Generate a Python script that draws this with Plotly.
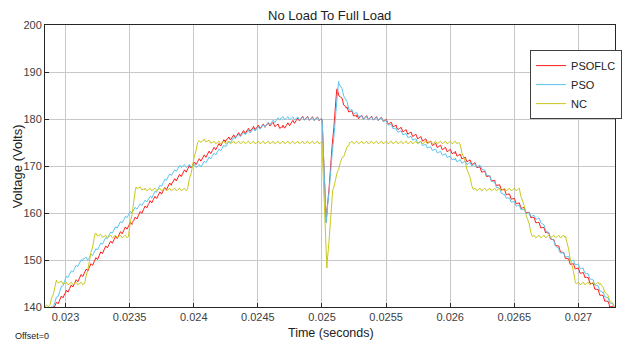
import numpy as np
import plotly.graph_objects as go

# Key points (time in s, voltage in V)
nc_t = [0.02284, 0.02288, 0.02293, 0.02300, 0.02315, 0.02323, 0.02330, 0.02349, 0.02355, 0.02362,
        0.02395, 0.02403, 0.02408, 0.02415, 0.02500, 0.025004, 0.025038, 0.025085, 0.02514, 0.025215,
        0.02607, 0.02618, 0.02654, 0.02664, 0.02690, 0.02698, 0.02717, 0.02728]
nc_v = [140.0, 140.5, 145.5, 145.0, 145.0, 155.5, 155.0, 155.0, 165.5, 165.0,
        165.0, 175.0, 175.5, 175.0, 175.0, 172.0, 148.3, 165.0, 170.5, 175.0,
        175.0, 165.0, 165.0, 155.0, 155.0, 145.0, 145.0, 140.0]

pso_t = [0.02284, 0.02290, 0.02300, 0.02314, 0.02318, 0.02334, 0.02351, 0.02367, 0.02380, 0.02390,
         0.02405, 0.02414, 0.02433, 0.02453, 0.02468, 0.02500, 0.025004, 0.025033, 0.025130, 0.025215,
         0.025320, 0.025470, 0.025580, 0.025830, 0.026040, 0.026240, 0.026420, 0.026600, 0.026700,
         0.026850, 0.027040, 0.027190, 0.02728]
pso_v = [139.0, 140.0, 146.0, 150.3, 150.3, 155.3, 160.2, 163.4, 167.7, 170.0,
         170.0, 172.0, 176.2, 178.3, 180.2, 180.0, 178.0, 158.0, 188.0, 182.0,
         180.2, 180.0, 177.7, 174.0, 171.3, 169.8, 163.8, 160.0, 158.5,
         152.0, 147.9, 143.0, 140.0]

flc_t = [0.02284, 0.02291, 0.02300, 0.02317, 0.02332, 0.02352, 0.02365, 0.02383, 0.02397, 0.02405,
         0.02425, 0.02446, 0.02461, 0.02469, 0.02484, 0.02500, 0.025004, 0.025033, 0.025115, 0.025190,
         0.025270, 0.025470, 0.025580, 0.025830, 0.026040, 0.026200, 0.026350, 0.026600, 0.026750,
         0.026930, 0.027060, 0.027240, 0.02728]
flc_v = [138.5, 140.0, 143.0, 147.9, 152.8, 158.0, 162.0, 166.4, 169.8, 171.3,
         175.5, 178.0, 179.0, 178.2, 180.2, 180.0, 178.0, 158.0, 186.2, 182.3,
         180.5, 180.0, 178.3, 175.1, 172.7, 170.2, 166.5, 160.2, 156.0,
         149.6, 146.4, 140.5, 139.5]

# switching ripple pattern (one cycle, V offsets)
ripple_pattern = [0.0, 0.5, -0.5]

x_ticks = [0.023, 0.0235, 0.024, 0.0245, 0.025, 0.0255, 0.026, 0.0265, 0.027]
x_tick_labels = ["0.023", "0.0235", "0.024", "0.0245", "0.025", "0.0255", "0.026", "0.0265", "0.027"]
y_ticks = [140, 150, 160, 170, 180, 190, 200]

names = ["PSOFLC", "PSO", "NC"]
colors = ["#ff1a1a", "#5bc4ee", "#c8c81e"]
amps = [0.8, 0.65, 0.55]

FONT = "Liberation Sans, Arial, sans-serif"


def dense(ts, vs, amp):
    step = 0.0000128
    t = np.arange(ts[0], ts[-1], step)
    pat = np.array(ripple_pattern)
    r = pat[np.arange(len(t)) % len(pat)] * amp
    # add the read key points themselves (no ripple) so sharp transients are kept
    t_all = np.concatenate([t, np.array(ts)])
    r_all = np.concatenate([r, np.zeros(len(ts))])
    order = np.argsort(t_all, kind="stable")
    t_all = t_all[order]
    r_all = r_all[order]
    v = np.interp(t_all, ts, vs) + r_all
    return t_all, v


fig = go.Figure()
for ts, vs, name, col, a in [(flc_t, flc_v, names[0], colors[0], amps[0]),
                             (pso_t, pso_v, names[1], colors[1], amps[1]),
                             (nc_t, nc_v, names[2], colors[2], amps[2])]:
    t, v = dense(ts, vs, a)
    fig.add_trace(go.Scatter(x=t, y=v, mode="lines", name=name,
                             line=dict(color=col, width=1, simplify=False)))

fig.update_layout(
    width=623, height=344,
    margin=dict(l=45, r=1, t=25, b=37),
    paper_bgcolor="white", plot_bgcolor="white",
    font=dict(family=FONT, size=11, color="#404040"),
    showlegend=True,
    legend=dict(x=0.851, y=0.911, xanchor="left", yanchor="top",
                bordercolor="#404040", borderwidth=1, bgcolor="white",
                traceorder="normal", font=dict(family=FONT, size=11, color="#222"),
                itemwidth=30, tracegroupgap=0),
)
fig.add_annotation(text="No Load To Full Load", xref="paper", yref="paper",
                   x=(333 - 45) / 577, y=(307 - 15) / 282, showarrow=False,
                   font=dict(family=FONT, size=13, color="#222"), xanchor="center", yanchor="middle")
fig.add_annotation(text="Voltage (Volts)", xref="paper", yref="paper",
                   x=(17 - 45) / 577, y=(307 - 166) / 282, showarrow=False, textangle=-90,
                   font=dict(family=FONT, size=13, color="#222"),
                   xanchor="center", yanchor="middle")
fig.add_annotation(text="Time (seconds)", xref="paper", yref="paper",
                   x=(335 - 45) / 577, y=(307 - 333) / 282, showarrow=False,
                   font=dict(family=FONT, size=12.5, color="#222"), xanchor="center", yanchor="middle")
fig.add_annotation(text="Offset=0", xref="paper", yref="paper",
                   x=(13 - 45) / 577, y=(307 - 336) / 282, showarrow=False,
                   font=dict(family=FONT, size=9, color="#222"), xanchor="left", yanchor="middle")

fig.update_xaxes(range=[0.02284, 0.027285], tickvals=x_ticks, ticktext=x_tick_labels,
                 showgrid=True, gridcolor="#c8c8c8", gridwidth=1,
                 showline=True, linecolor="#262626", linewidth=1, mirror=True,
                 ticks="inside", ticklen=4, tickcolor="#262626", zeroline=False)
fig.update_yaxes(range=[140, 200], tickvals=y_ticks,
                 showgrid=True, gridcolor="#c8c8c8", gridwidth=1,
                 showline=True, linecolor="#262626", linewidth=1, mirror=True,
                 ticks="inside", ticklen=4, tickcolor="#262626", zeroline=False)

fig.write_html("out.html")
